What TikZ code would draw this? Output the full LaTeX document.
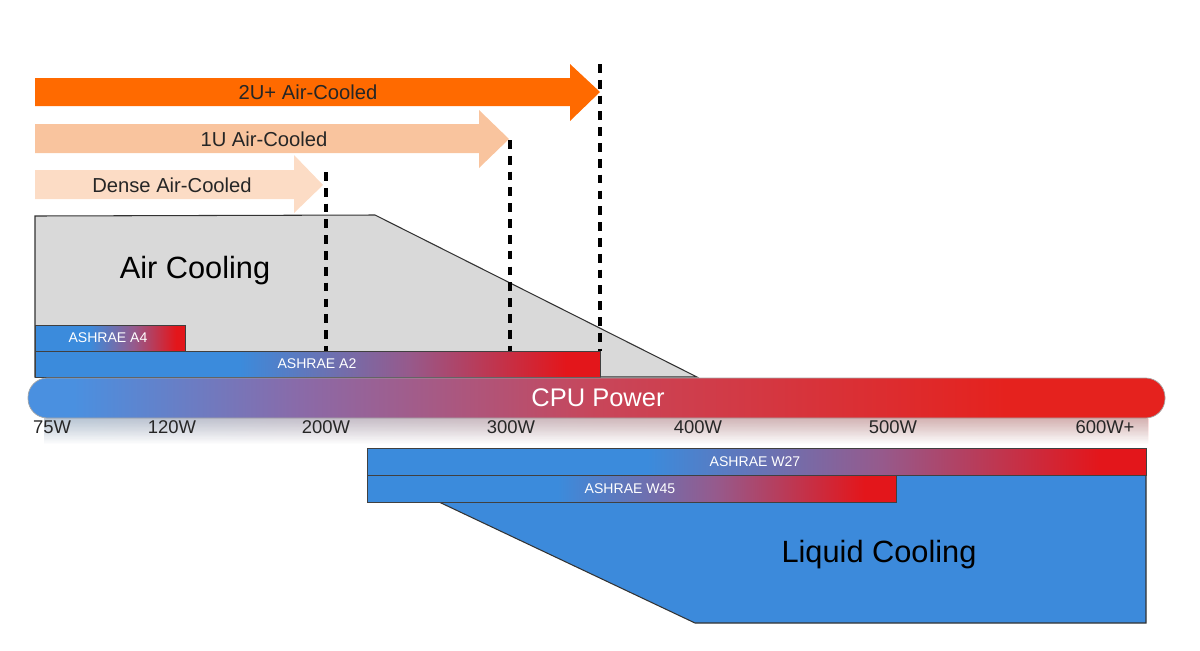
\documentclass[tikz,border=0pt]{standalone}
\usepackage{fontspec}
\setmainfont{Liberation Sans}
\usetikzlibrary{fadings}

\definecolor{orangeTwoU}{HTML}{FF6A00}
\definecolor{peachOneU}{HTML}{F9C49E}
\definecolor{peachDense}{HTML}{FCDCC5}
\definecolor{airgrey}{HTML}{D9D9D9}
\definecolor{barblue}{HTML}{3B8BDC}
\definecolor{barmid}{HTML}{965A8C}
\definecolor{barred}{HTML}{E3161B}
\definecolor{cpublue}{HTML}{4A90E0}
\definecolor{cpupurple}{HTML}{8A6AA8}
\definecolor{cpurose}{HTML}{C8465A}
\definecolor{cpured}{HTML}{E5221E}
\definecolor{liquidblue}{HTML}{3C8ADB}

\pgfdeclarehorizontalshading{ashrae}{100bp}{color(0bp)=(barblue); color(43bp)=(barblue); color(58bp)=(barmid); color(72bp)=(barred); color(100bp)=(barred)}
\pgfdeclarehorizontalshading{cpubar}{100bp}{color(0bp)=(cpublue); color(27bp)=(cpublue); color(37bp)=(cpupurple); color(50bp)=(cpurose); color(68bp)=(cpured); color(100bp)=(cpured)}

\tikzstyle{ashraebar} = [draw=black!75,line width=0.4pt,shading=ashrae]
\tikzstyle{barlabel} = [text=white,font=\fontsize{8}{9}\selectfont]
\tikzstyle{ticklabel} = [text=black!85,font=\fontsize{10.5}{12}\selectfont]
\tikzstyle{limitline} = [black,line width=1.8pt,dash pattern=on 5pt off 4pt]
\tikzstyle{arrowlabel} = [text=black!85,font=\fontsize{11.5}{13}\selectfont]
\tikzstyle{regionlabel} = [text=black,font=\fontsize{17.5}{20}\selectfont]

\begin{document}
\begin{tikzpicture}[x=0.02cm,y=-0.02cm]
  \useasboundingbox (0,0) rectangle (1200,650);

  % air-cooled form factors
  \fill[orangeTwoU] (35,78) -- (570,78) -- (570,64) -- (600,92) -- (570,121) -- (570,106) -- (35,106) -- cycle;
  \node[arrowlabel] (twoU) at (308,92) {2U+ Air-Cooled};
  \fill[peachOneU] (35,124) -- (479,124) -- (479,110) -- (509,139) -- (479,168) -- (479,153) -- (35,153) -- cycle;
  \node[arrowlabel] (oneU) at (264,139) {1U Air-Cooled};
  \fill[peachDense] (35,170) -- (294,170) -- (294,155) -- (323,185) -- (294,213) -- (294,199) -- (35,199) -- cycle;
  \node[arrowlabel] (dense) at (172,185) {Dense Air-Cooled};

  % air cooling region
  \filldraw[fill=airgrey,draw=black!80,line width=0.6pt] (35,377) -- (35,216) -- (375,215) -- (697,377) -- cycle;
  \node[regionlabel] (air) at (195,271) {Air Cooling};

  % limits
  \draw[limitline] (600,64) -- (600,351);
  \draw[limitline] (510,140) -- (510,351);
  \draw[limitline] (326,172) -- (326,351);

  % ASHRAE air classes
  \draw[ashraebar] (35,325) rectangle (185,351);
  \node[barlabel] (aFour) at (108,338) {ASHRAE A4};
  \draw[ashraebar] (35,351) rectangle (600,377);
  \node[barlabel] (aTwo) at (317,364) {ASHRAE A2};

  % CPU power scale
  \fill[shading=cpubar,path fading=south,opacity=0.18] (45,418) rectangle (1150,444);
  \draw[shading=cpubar,draw=black!35,line width=0.4pt,rounded corners=11pt] (28,378) rectangle (1165,418);
  \node[text=white,font=\fontsize{14.5}{16}\selectfont] (cpu) at (598,398) {CPU Power};

  \node[ticklabel] (w75) at (52,427) {75W};
  \node[ticklabel] (w120) at (172,427) {120W};
  \node[ticklabel] (w200) at (326,427) {200W};
  \node[ticklabel] (w300) at (511,427) {300W};
  \node[ticklabel] (w400) at (698,427) {400W};
  \node[ticklabel] (w500) at (893,427) {500W};
  \node[ticklabel] (w600) at (1105,427) {600W+};

  % liquid cooling region
  \filldraw[fill=liquidblue,draw=black!80,line width=0.6pt] (439,502) -- (695,623) -- (1146,623) -- (1146,475) -- (896,475) -- (896,502) -- cycle;
  \node[regionlabel] (liquid) at (879,555) {Liquid Cooling};

  % ASHRAE liquid classes
  \draw[ashraebar] (367,448) rectangle (1146,475);
  \node[barlabel] (wTwentySeven) at (755,462) {ASHRAE W27};
  \draw[ashraebar] (367,475) rectangle (896,502);
  \node[barlabel] (wFortyFive) at (630,489) {ASHRAE W45};
\end{tikzpicture}
\end{document}
